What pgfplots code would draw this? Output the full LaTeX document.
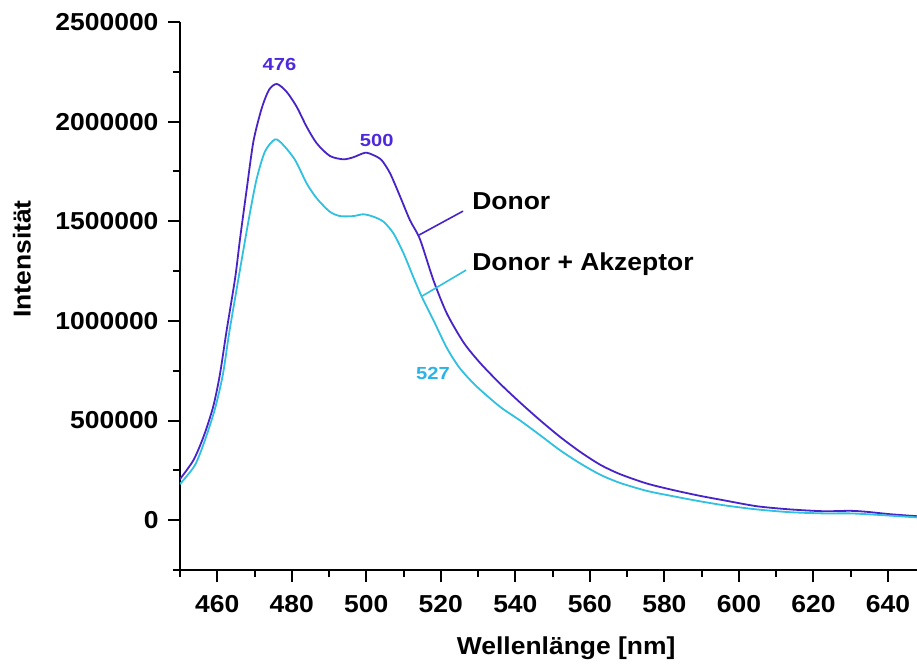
\documentclass[border=0pt]{standalone}
\usepackage{fontspec}
\setmainfont{Liberation Sans}[FakeStretch=1.08]
\newfontfamily\annfont{Liberation Sans}[FakeStretch=1.15]
\usepackage{pgfplots}
\pgfplotsset{compat=1.18}
\definecolor{donor}{RGB}{72,36,200}
\definecolor{dakz}{RGB}{48,192,224}
\definecolor{donortxt}{RGB}{78,40,220}
\definecolor{dakztxt}{RGB}{40,180,230}
\begin{document}
\begin{tikzpicture}[x=1pt,y=1pt]
\path[use as bounding box] (-180,-96) rectangle (737,570);
\begin{axis}[
  at={(0,0)}, anchor=south west,
  scale only axis, width=737pt, height=548pt,
  xmin=450, xmax=647.8, ymin=-250000, ymax=2500000,
  axis x line=bottom, axis y line=left,
  axis line style={-, line width=2pt, black},
  tick align=outside,
  major tick length=12pt, minor tick length=7pt,
  every tick/.style={black, line width=2pt},
  xtick={460,480,500,520,540,560,580,600,620,640},
  xticklabels={460,480,500,520,540,560,580,600,620,640},
  minor xtick={450,470,490,510,530,550,570,590,610,630},
  ytick={0,500000,1000000,1500000,2000000,2500000},
  yticklabels={0,500000,1000000,1500000,2000000,2500000},
  minor ytick={-250000,250000,750000,1250000,1750000,2250000},
  scaled y ticks=false,
  ticklabel style={font=\fontsize{24.5}{28}\selectfont\bfseries},
  xticklabel style={yshift=-10pt},
  yticklabel style={xshift=-6pt},
  xlabel={Wellenlänge [nm]},
  ylabel={Intensität},
  label style={font=\fontsize{24.5}{28}\selectfont\bfseries},
  xlabel style={at={(axis description cs:0.524,-0.1423)}, anchor=center},
  ylabel style={at={(axis description cs:-0.2144,0.5675)}, anchor=center},
]
\addplot[donor, line width=1.8pt, line join=round, smooth, tension=0.45] coordinates {
(450,206000) (453.6,301000) (456.3,418000) (458.9,569000) (460.7,730000)
(462.5,950000) (464.8,1215000) (466.1,1410000) (467.9,1660000)
(469.7,1900000) (471.9,2065000) (473.9,2160000) (476,2189000) (478.6,2150000)
(481.3,2075000) (484.0,1974000) (486.7,1891000) (490.2,1828000)
(493.8,1811000) (496.5,1821000) (499.7,1844000) (501.9,1832000) (504.1,1807000)
(506.4,1740000) (509.1,1623000) (511.7,1506000) (514.4,1410000) (518,1205000)
(521.6,1038000) (526.1,892000) (530.5,790000) (535.9,685000) (541.3,590000)
(546.6,502000) (552,418000) (557.4,343000) (562.8,278000) (568.1,231000)
(575.3,184000) (582.4,151000) (589.6,122000) (595.9,100000)
(604.8,70000) (613.8,54000) (622.7,45000) (629.9,47000) (634.3,42000)
(640.6,30000) (647.8,20000)
};
\addplot[dakz, line width=1.8pt, line join=round, smooth, tension=0.45] coordinates {
(450,181000) (454.0,276000) (456.7,402000) (459.4,560000) (461.5,730000)
(463.2,940000) (465.3,1170000) (467.0,1355000) (468.8,1545000) (470.6,1715000)
(472.8,1850000) (475.5,1911000) (477.7,1883000) (480.9,1807000) (484,1690000)
(486.7,1615000) (490.2,1548000) (493,1526000) (496.5,1526000) (499.2,1535000)
(501.9,1523000) (504.6,1498000) (507.3,1439000) (510,1339000) (512.6,1221000)
(514.9,1121000) (518,1004000) (521.6,865000) (525,765000) (529.5,673000)
(535.9,569000) (541.3,500000) (546.6,427000) (552,351000) (557.4,285000)
(562.8,228000) (568.1,187000) (575.3,147000) (582.4,120000) (588,100000)
(595.9,75000) (604.8,54000) (613.8,40000) (622.7,34000) (629.9,34000)
(637,27000) (647.8,14000)
};
\draw[donor, line width=1.6pt] (axis cs:525.97,1551000) -- (axis cs:514.16,1431000);
\draw[dakz, line width=1.6pt] (axis cs:526.78,1255000) -- (axis cs:514.97,1124500);
\node[anchor=base west, inner sep=0pt, font=\fontsize{24.5}{28}\selectfont\bfseries] at (axis cs:528.4,1559700) {Donor};
\node[anchor=base west, inner sep=0pt, font=\fontsize{24.5}{28}\selectfont\bfseries] at (axis cs:528.4,1255000) {Donor + Akzeptor};
\node[anchor=base, inner sep=0pt, text=donortxt, font=\annfont\fontsize{17.5}{20}\selectfont\bfseries] at (axis cs:476.7,2255500) {476};
\node[anchor=base, inner sep=0pt, text=donortxt, font=\annfont\fontsize{17.5}{20}\selectfont\bfseries] at (axis cs:502.8,1877500) {500};
\node[anchor=base, inner sep=0pt, text=dakztxt, font=\annfont\fontsize{17.5}{20}\selectfont\bfseries] at (axis cs:517.9,706000) {527};
\end{axis}
\end{tikzpicture}
\end{document}
